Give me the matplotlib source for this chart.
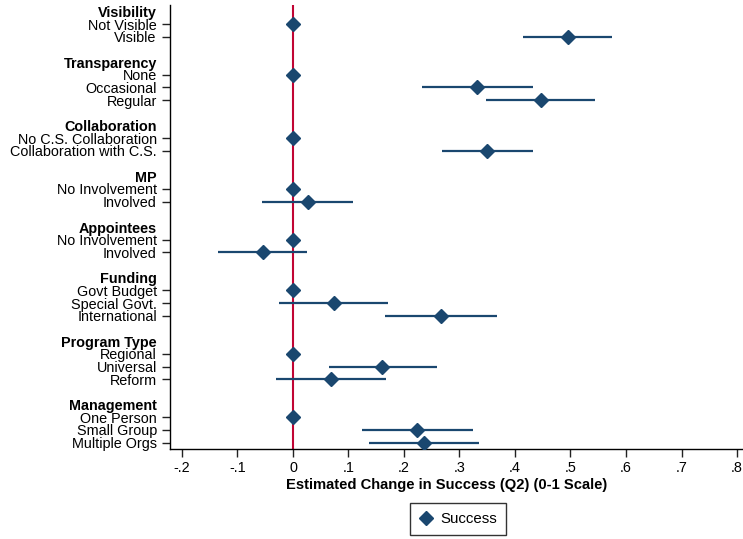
import matplotlib.pyplot as plt
import numpy as np

# groups and their categories (first category in each group is the baseline)
groups = ['Visibility', 'Transparency', 'Collaboration', 'MP', 'Appointees',
          'Funding', 'Program Type', 'Management']
categories = [
    ['Not Visible', 'Visible'],
    ['None', 'Occasional', 'Regular'],
    ['No C.S. Collaboration', 'Collaboration with C.S.'],
    ['No Involvement', 'Involved'],
    ['No Involvement', 'Involved'],
    ['Govt Budget', 'Special Govt.', 'International'],
    ['Regional', 'Universal', 'Reform'],
    ['One Person', 'Small Group', 'Multiple Orgs'],
]
estimates = [
    [0, 0.495],
    [0, 0.332, 0.447],
    [0, 0.349],
    [0, 0.027],
    [0, -0.054],
    [0, 0.074, 0.266],
    [0, 0.161, 0.068],
    [0, 0.224, 0.236],
]
ci_low = [
    [None, 0.415],
    [None, 0.232, 0.348],
    [None, 0.268],
    [None, -0.055],
    [None, -0.135],
    [None, -0.026, 0.166],
    [None, 0.064, -0.031],
    [None, 0.124, 0.137],
]
ci_high = [
    [None, 0.575],
    [None, 0.433, 0.545],
    [None, 0.432],
    [None, 0.109],
    [None, 0.025],
    [None, 0.172, 0.367],
    [None, 0.260, 0.168],
    [None, 0.324, 0.336],
]
xticks = [-0.2, -0.1, 0, 0.1, 0.2, 0.3, 0.4, 0.5, 0.6, 0.7, 0.8]

navy = '#1a476f'
red = '#c10534'

plt.rcParams['font.family'] = ['Liberation Sans', 'DejaVu Sans']

fig = plt.figure(figsize=(7.43, 5.39), dpi=100)
ax = fig.add_axes([170 / 743, 1 - 449 / 539, 572 / 743, 444 / 539])

pos = []
labels = []
is_header = []
row = 0
for g, cats, est, lo, hi in zip(groups, categories, estimates, ci_low, ci_high):
    pos.append(row)
    labels.append(g)
    is_header.append(True)
    row += 1
    for c, e, l, h in zip(cats, est, lo, hi):
        if l is not None:
            ax.plot([l, h], [row, row], color=navy, lw=1.6, solid_capstyle='butt', zorder=2)
        ax.plot(e, row, marker='D', color=navy, ms=7, zorder=3, linestyle='none')
        pos.append(row)
        labels.append(c)
        is_header.append(False)
        row += 1
    row += 1

ax.axvline(0, color=red, lw=1.5, zorder=1)

ax.set_ylim(row - 1.5, -0.5)
ax.set_xlim(-0.2216, 0.809)
ax.set_yticks(pos)
ax.set_yticklabels(labels, fontsize=10.4)
for t, lab, h in zip(ax.yaxis.get_major_ticks(), ax.get_yticklabels(), is_header):
    if h:
        t.tick1line.set_visible(False)
        lab.set_fontweight('bold')

ax.set_xticks(xticks)
ax.set_xticklabels(['0' if v == 0 else ('%.1f' % v).replace('0.', '.') for v in xticks],
                   fontsize=10.4)
ax.tick_params(axis='both', direction='out', length=6, width=1, color='#222222')
ax.tick_params(axis='x', pad=3)
ax.set_xlabel('Estimated Change in Success (Q2) (0-1 Scale)', fontsize=10.6,
              fontweight='bold', labelpad=3)
ax.xaxis.set_label_coords((447 - 170) / 572, -0.065)

ax.spines['top'].set_visible(False)
ax.spines['right'].set_visible(False)
ax.spines['left'].set_linewidth(1)
ax.spines['bottom'].set_linewidth(1)

handle = plt.Line2D([], [], marker='D', color=navy, linestyle='none', ms=7)
leg = fig.legend([handle], ['Success'], loc='upper center',
                 bbox_to_anchor=(458 / 743, 1 - 503 / 539), fontsize=10.8,
                 fancybox=False, edgecolor='#333333', framealpha=1,
                 handletextpad=0.5, borderpad=0.6, handlelength=0.9,
                 borderaxespad=0)
leg.get_frame().set_linewidth(1)

fig.savefig('out.png', dpi=100)
